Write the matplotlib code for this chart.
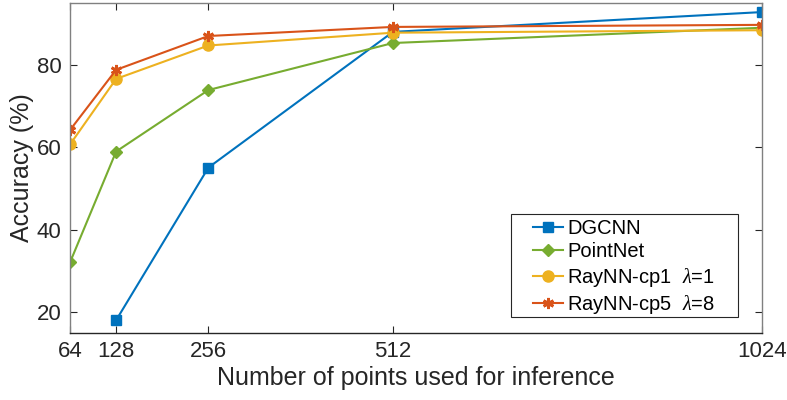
import matplotlib
matplotlib.use("Agg")
import matplotlib.pyplot as plt
from matplotlib.patches import Rectangle

x_points = [64, 128, 256, 512, 1024]
dgcnn_x = [128, 256, 512, 1024]
dgcnn = [18.1, 55.1, 88.0, 92.8]
pointnet = [32.1, 59.0, 73.9, 85.3, 89.0]
raynn_cp1 = [60.7, 76.6, 84.7, 87.8, 88.4]
raynn_cp5 = [64.2, 78.8, 87.0, 89.2, 89.7]
labels = ["DGCNN", "PointNet", r"RayNN-cp1  $\lambda$=1", r"RayNN-cp5  $\lambda$=8"]

plt.rcParams['font.family'] = ['Liberation Sans', 'DejaVu Sans']
plt.rcParams['mathtext.fontset'] = 'custom'
plt.rcParams['mathtext.it'] = 'Liberation Serif:italic'

txt = '#262626'
axc = '#262626'

fig = plt.figure(figsize=(7.87, 4.0), dpi=100)
ax = fig.add_axes([70/787, 1-333/400, (762-70)/787, (333-3)/400])

lw = 1.5
ax.plot(dgcnn_x, dgcnn, color='#0072BD', marker='s', ms=7, lw=lw, label=labels[0])
ax.plot(x_points, pointnet, color='#77AC30', marker='D', ms=6.5, lw=lw, label=labels[1])
ax.plot(x_points, raynn_cp1, color='#EDB120', marker='o', ms=8, lw=lw, label=labels[2])
ax.plot(x_points, raynn_cp5, color='#D95319', marker=(6, 2, 0), ms=8, mew=2, lw=lw, label=labels[3])

ax.set_xlim(64, 1024)
ax.set_ylim(15, 95)
ax.set_xticks(x_points)
ax.set_xticklabels([str(v) for v in x_points])
ax.set_yticks([20, 40, 60, 80])
ax.tick_params(direction='in', top=True, right=True, length=5, width=0.8,
               colors=axc, labelcolor=txt, labelsize=16, pad=6)
for s in ax.spines.values():
    s.set_color('#808080')
    s.set_linewidth(1.0)
ax.spines['bottom'].set_color(axc)

ax.set_xlabel('Number of points used for inference', fontsize=18, color=txt, labelpad=3)
ax.set_ylabel('Accuracy (%)', fontsize=18, color=txt, labelpad=2)

# legend frame (MATLAB-style box)
frame = Rectangle(((511-70)/692, (333-317)/330), (738-511)/692, (317-214)/330,
                  transform=ax.transAxes, facecolor='white', edgecolor=axc,
                  linewidth=0.8, zorder=4.5)
ax.add_patch(frame)

leg = ax.legend(loc='upper left', bbox_to_anchor=((533-70)/692, (333-219)/330),
                fontsize=14.5, frameon=False,
                borderpad=0, labelspacing=0.22, handlelength=1.5, handletextpad=0.2,
                borderaxespad=0)
leg.set_zorder(5)
for t in leg.get_texts():
    t.set_color('black')

fig.savefig('out.png', dpi=100)
